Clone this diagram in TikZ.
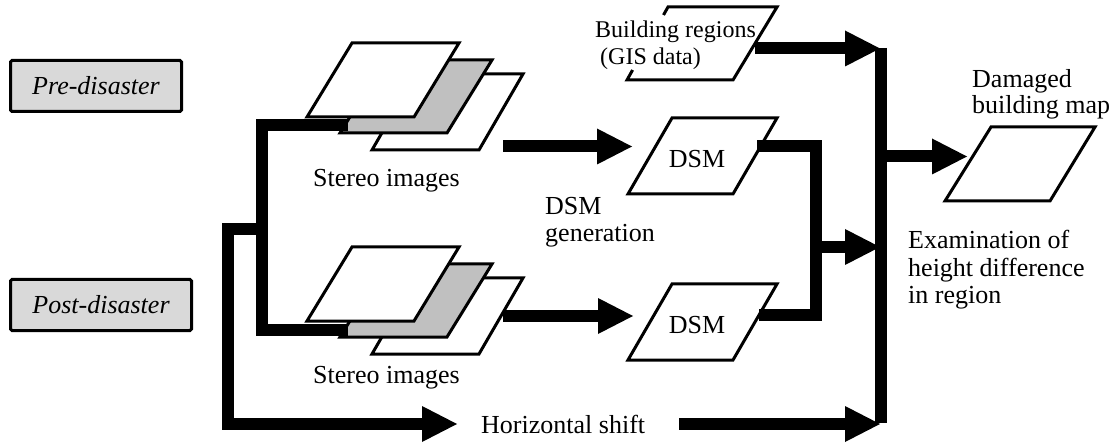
\documentclass[tikz,border=0pt]{standalone}
\usepackage{fontspec}
\setmainfont{Liberation Serif}
\usetikzlibrary{arrows.meta}
\definecolor{boxgray}{RGB}{217,217,217}
\definecolor{sheetgray}{RGB}{192,192,192}
\begin{document}
\begin{tikzpicture}[x=1pt,y=-1pt,
  conn/.style={line width=12pt, line join=miter, line cap=butt},
  bigarrow/.style={conn, -{Triangle[length=35pt,width=36pt,line width=0pt]}},
  sheet/.style={draw, line width=3pt, line join=miter, fill=white},
  txt/.style={inner sep=0pt, font=\fontsize{26}{27.5}\selectfont},
  phase/.style={draw, line width=3pt, fill=boxgray, rounded corners=1.5pt, minimum height=51pt, inner sep=0pt, font=\fontsize{26}{27.5}\selectfont\itshape},
]
\useasboundingbox (0,0) rectangle (1116,446);

% phase boxes
\node[phase, minimum width=171pt] (pre) at (96,86) {Pre-disaster};
\node[phase, minimum width=181pt] (post) at (101,305) {Post-disaster};

% upper stereo stack
\filldraw[sheet] (372,150) -- (479,150) -- (523,74) -- (416,74) -- cycle;
\filldraw[sheet, fill=sheetgray] (340,133) -- (447,133) -- (492,60) -- (385,60) -- cycle;
\filldraw[sheet] (307,117) -- (414,117) -- (459,43) -- (352,43) -- cycle;
\node[txt, anchor=base west] (stA) at (313,187) {Stereo images};

% lower stereo stack
\begin{scope}[shift={(0,204)}]
\filldraw[sheet] (372,150) -- (479,150) -- (523,74) -- (416,74) -- cycle;
\filldraw[sheet, fill=sheetgray] (340,133) -- (447,133) -- (492,60) -- (385,60) -- cycle;
\filldraw[sheet] (307,117) -- (414,117) -- (459,43) -- (352,43) -- cycle;
\end{scope}
\node[txt, anchor=base west] (stB) at (313,383) {Stereo images};

% DSM sheets
\filldraw[sheet] (628,194) -- (733,194) -- (777,118) -- (672,118) -- cycle;
\node[txt] (dsmA) at (697,159.5) {DSM};
\filldraw[sheet] (628,360) -- (733,360) -- (777,284) -- (672,284) -- cycle;
\node[txt] (dsmB) at (697,325) {DSM};
\node[txt, align=left, anchor=north west, font=\fontsize{26}{27}\selectfont] (dsmgen) at (545,196.8) {DSM\\generation};

% building regions
\draw[sheet, fill=none] (663.5,15) -- (668,7) -- (777,7) -- (733,80) -- (627,80) -- (632.6,70);
\node[txt, align=left, anchor=north west, font=\fontsize{24}{27}\selectfont] (bldg) at (595,20.6) {Building regions\\\hspace{5pt}(GIS data)};

% damaged building map
\filldraw[sheet] (945,201) -- (1050,201) -- (1095,127) -- (991,127) -- cycle;
\node[txt, align=left, anchor=north west, font=\fontsize{26}{26}\selectfont] (dmg) at (972,69.7) {Damaged\\building map};

\node[txt, align=left, anchor=north west] (exam) at (908,230.2) {Examination of\\height difference\\in region};
\node[txt, anchor=base west] (hshift) at (481,433) {Horizontal shift};

% connector points
\coordinate (stAin) at (348,125.5);
\coordinate (stBin) at (348,330);
\coordinate (split) at (261.5,229);
\coordinate (trunk) at (227.5,229);
\coordinate (hsTip) at (457,424);
\coordinate (stAout) at (503,146.5);
\coordinate (dsmAin) at (632,146.5);
\coordinate (stBout) at (503,316);
\coordinate (dsmBin) at (633,316);
\coordinate (dsmAout) at (757,146.5);
\coordinate (dsmBout) at (759,315);
\coordinate (merge) at (816,247);
\coordinate (jB) at (880,247);
\coordinate (bldgout) at (755,48.5);
\coordinate (jA) at (880,48.5);
\coordinate (hsOut) at (679,424);
\coordinate (jC) at (880,424);
\coordinate (busTop) at (881,48);
\coordinate (busBot) at (881,423);
\coordinate (mapIn) at (967,156.5);

% connectors
\draw[conn] (stAin) -| (split) |- (stBin);
\draw[bigarrow] (split) -- (trunk) |- (hsTip);
\draw[bigarrow] (stAout) -- (dsmAin);
\draw[bigarrow] (stBout) -- (dsmBin);
\draw[conn] (dsmAout) -| (merge) |- (dsmBout);
\draw[bigarrow] (merge) -- (jB);
\draw[bigarrow] (bldgout) -- (jA);
\draw[bigarrow] (hsOut) -- (jC);
\draw[conn] (busTop) -- (busBot);
\draw[bigarrow] (busTop |- mapIn) -- (mapIn);
\end{tikzpicture}
\end{document}
